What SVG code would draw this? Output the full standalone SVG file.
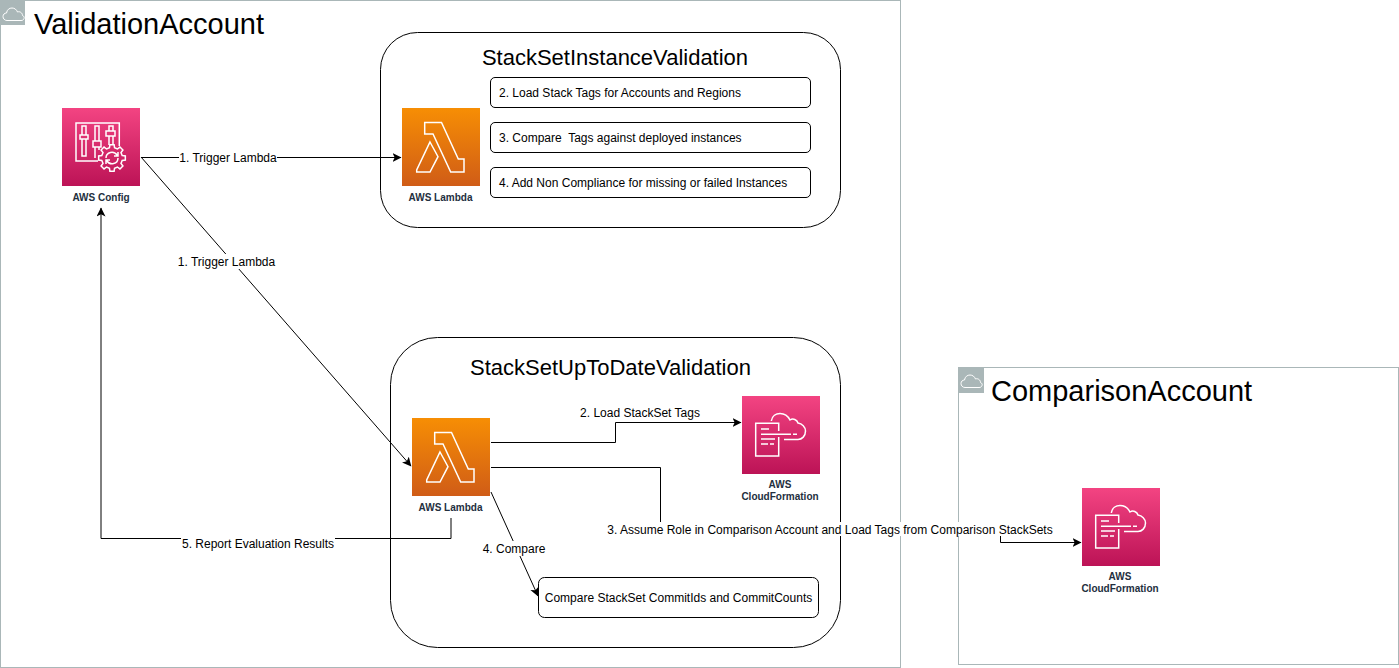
<svg xmlns="http://www.w3.org/2000/svg" width="1399" height="668" viewBox="0 0 1399 668">
<style>
text{font-family:"Liberation Sans",Arial,sans-serif;fill:#000}
.acct{fill:#fff;stroke:#aab7b8;stroke-width:1}
.tab{fill:#aab7b8}
.cloud{fill:none;stroke:#fff;stroke-width:1}
.cont{fill:#fff;stroke:#000;stroke-width:1}
.box{fill:#fff;stroke:#000;stroke-width:1}
.t29{font-size:29px}
.t22{font-size:22px;text-anchor:middle}
.t12{font-size:12px}
.c{text-anchor:middle}
.svc{font-size:10px;font-weight:bold;text-anchor:middle;fill:#232f3e}
.line{fill:none;stroke:#000;stroke-width:1;marker-end:url(#arrow)}
.lab{fill:#fff}
.ic{fill:none;stroke:#fff;stroke-width:1.5}
</style>
<defs>
<linearGradient id="pink" x1="0" y1="0" x2="0" y2="1"><stop offset="0" stop-color="#f34482"/><stop offset="1" stop-color="#bc1356"/></linearGradient>
<linearGradient id="orange" x1="0" y1="0" x2="0" y2="1"><stop offset="0" stop-color="#f78e04"/><stop offset="1" stop-color="#d05c17"/></linearGradient>
<marker id="arrow" markerUnits="userSpaceOnUse" markerWidth="10" markerHeight="10" refX="8.500" refY="4.500" orient="auto"><path d="M0 0L9 4.500L0 9L2.200 4.500Z" fill="#000"/></marker>
<symbol id="lambda" viewBox="0 0 78 78" overflow="visible">
<rect width="78" height="78" fill="url(#orange)"/>
<path class="ic" d="M22.700 14.500H39.500L56.300 51H62V64H48.700L31 26H22.700ZM28 34L36 48.700L28 64H14.700V62Z"/>
</symbol>
<symbol id="cf" viewBox="0 0 78 78" overflow="visible">
<rect width="78" height="78" fill="url(#pink)"/>
<path class="ic" d="M36.700 35V27.300H13.700V60H36.700V41M19 33H27M19 38.300H49M51 38.300H55M19 43H33M19 48H26M28 48H32M29.300 25C30 20 34 17.500 38 17.500C42.500 17.500 46 20 48 24C51 22 55 23.500 56 27C60 27.500 63.500 31 63.500 35C63.500 40 60 43.500 56 43.500H42"/>
</symbol>
<path id="cl" d="M5 16.500C2.500 16.500 1 14.500 1 12.500C1 10.500 2.500 9 4.500 9C5 5.500 7.500 4 10 4C12.500 4 14.500 5.500 15.500 8C18 7 20.500 9 20.500 11.500C22 12 22.500 13.500 22 14.500C21.500 16 20.500 16.500 19 16.500Z"/>
</defs>

<g id="validation-account">
<rect class="acct" x="0.500" y="0.500" width="900" height="667"/>
<rect class="tab" x="0" y="0" width="25" height="25"/>
<use href="#cl" class="cloud" x="2" y="4"/>
<text class="t29" x="34" y="34">ValidationAccount</text>
</g>
<g id="comparison-account">
<rect class="acct" x="958.500" y="367.500" width="440" height="297"/>
<rect class="tab" x="959" y="368" width="25" height="25"/>
<use href="#cl" class="cloud" x="960" y="371"/>
<text class="t29" x="991" y="401">ComparisonAccount</text>
</g>
<g id="stackset-instance-validation">
<rect class="cont" x="380.500" y="32.500" width="460" height="195" rx="37" ry="37"/>
<text class="t22" x="615" y="65">StackSetInstanceValidation</text>
</g>
<g id="stackset-uptodate-validation">
<rect class="cont" x="390.500" y="337.500" width="450" height="310" rx="47" ry="47"/>
<text class="t22" x="610.500" y="375">StackSetUpToDateValidation</text>
</g>

<g id="connectors">
<path class="line" d="M141 157.500H401"/>
<path class="line" d="M141 157L411 466"/>
<path class="line" d="M451 518V538.500H101V208"/>
<path class="line" d="M491 442.500H615.500V422.500H741"/>
<path class="line" d="M491 467.500H660.500V529H1000.500V542.500H1081"/>
<path class="line" d="M491 492L538 596"/>
<rect class="lab" x="179" y="150" width="98" height="15"/>
<text class="t12 c" x="228" y="162">1. Trigger Lambda</text>
<rect class="lab" x="177" y="254" width="99" height="15"/>
<text class="t12 c" x="226.500" y="266">1. Trigger Lambda</text>
<rect class="lab" x="181" y="536" width="154" height="15"/>
<text class="t12 c" x="258" y="548">5. Report Evaluation Results</text>
<text class="t12 c" x="640" y="417">2. Load StackSet Tags</text>
<rect class="lab" x="606" y="522" width="448" height="14"/>
<text class="t12 c" x="830" y="534">3. Assume Role in Comparison Account and Load Tags from Comparison StackSets</text>
<rect class="lab" x="482" y="541" width="64" height="15"/>
<text class="t12 c" x="514" y="553">4. Compare</text>
</g>

<g id="aws-config">
<rect x="62" y="108" width="78" height="78" fill="url(#pink)"/>
<g transform="translate(62 108)">
<path class="ic" d="M36 53H14V15H57.300V38M20 18H24V27H20ZM18 27H26V31H18ZM20 31H24V48H20V31M33 18H37V33H33ZM31 33H39V39H31ZM33 39V50M37 39V42M47 18H51V23H47ZM44 23H53V28H44ZM47 28V37M51 28V37"/>
<path class="ic" transform="translate(50 50)" d="M10.190 -2.540L13.330 -2.110L13.330 2.110L10.190 2.540L9 5.410L10.920 7.940L7.940 10.920L5.410 9L2.540 10.190L2.110 13.330L-2.110 13.330L-2.540 10.190L-5.410 9L-7.940 10.920L-10.920 7.940L-9 5.410L-10.190 2.540L-13.330 2.110L-13.330 -2.110L-10.190 -2.540L-9 -5.410L-10.920 -7.940L-7.940 -10.920L-5.410 -9L-2.540 -10.190L-2.110 -13.330L2.110 -13.330L2.540 -10.190L5.410 -9L7.940 -10.920L10.920 -7.940L9 -5.410Z"/>
<path class="ic" transform="translate(50 50)" d="M-6 0C-6 -6 2 -8 5.500 -2.500M6 -6V-2H2M6 0C6 6 -2 8 -5.500 2.500M-6 6V2H-2"/>
</g>
<text class="svc" x="101" y="201">AWS Config</text>
</g>
<g id="lambda-instance">
<use href="#lambda" x="402" y="108" width="78" height="78"/>
<text class="svc" x="440.500" y="201">AWS Lambda</text>
</g>
<g id="lambda-uptodate">
<use href="#lambda" x="412" y="418" width="78" height="78"/>
<text class="svc" x="450.500" y="511">AWS Lambda</text>
</g>
<g id="cloudformation-validation">
<use href="#cf" x="742" y="396" width="78" height="78"/>
<text class="svc" x="780" y="488">AWS</text>
<text class="svc" x="780" y="500">CloudFormation</text>
</g>
<g id="cloudformation-comparison">
<use href="#cf" x="1082" y="488" width="78" height="78"/>
<text class="svc" x="1120" y="580">AWS</text>
<text class="svc" x="1120" y="592">CloudFormation</text>
</g>
<g id="step-2"><rect class="box" x="490.500" y="77.500" width="320" height="30" rx="4.500"/><text class="t12" x="499" y="97">2. Load Stack Tags for Accounts and Regions</text></g>
<g id="step-3"><rect class="box" x="490.500" y="122.500" width="320" height="30" rx="4.500"/><text class="t12" x="499" y="142" xml:space="preserve">3. Compare  Tags against deployed instances</text></g>
<g id="step-4"><rect class="box" x="490.500" y="167.500" width="320" height="30" rx="4.500"/><text class="t12" x="499" y="187">4. Add Non Compliance for missing or failed Instances</text></g>
<g id="compare-box"><rect class="box" x="538.500" y="577.500" width="280" height="40" rx="6"/><text class="t12 c" x="678.500" y="602">Compare StackSet CommitIds and CommitCounts</text></g>
</svg>
